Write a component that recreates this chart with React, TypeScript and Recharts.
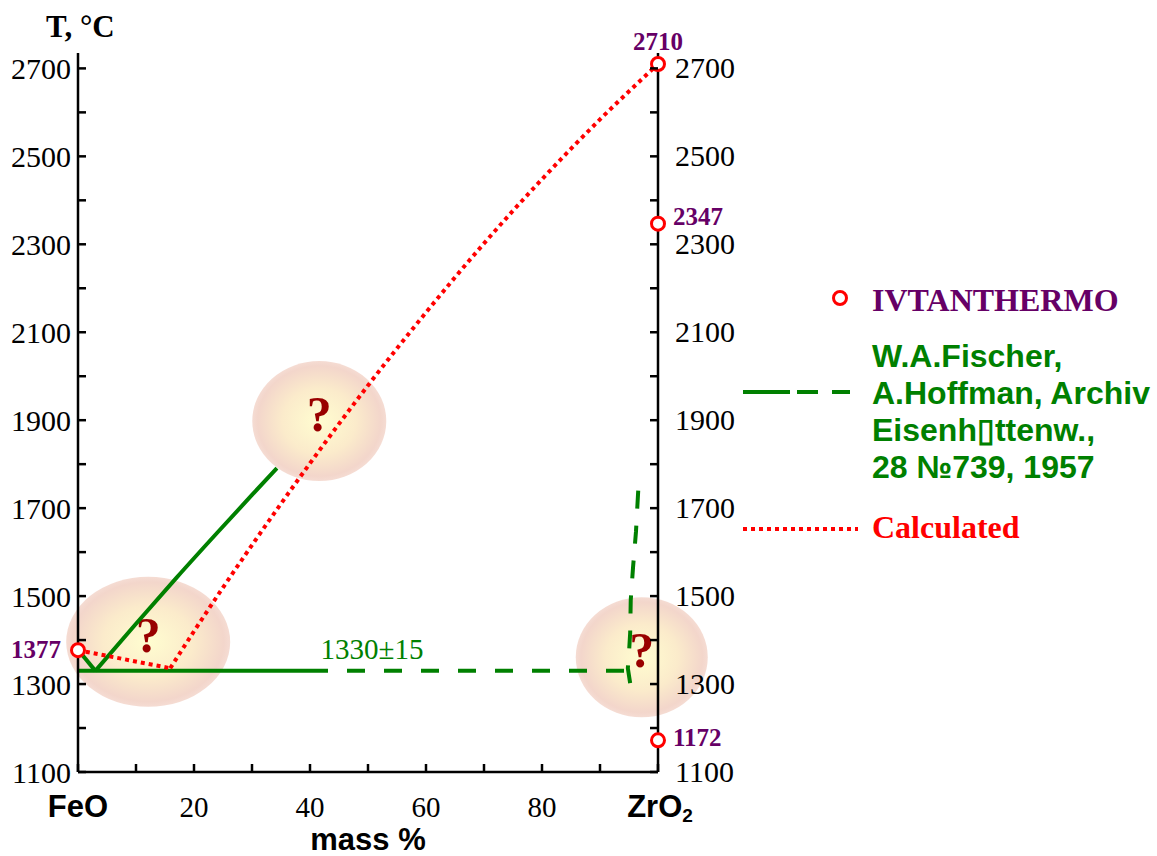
import {
  ComposedChart, Line, Scatter, XAxis, YAxis, ReferenceDot, Legend,
} from "recharts";

const GREEN = "#008000";
const RED = "#ff0000";
const PURPLE = "#660066";
const DARK_RED = "#990000";
const SERIF = "'Liberation Serif', 'Times New Roman', serif";
const SANS = "'Liberation Sans', Arial, sans-serif";

// x = mass % ZrO2, t = temperature, °C
const feoEutecticLeg = [{ x: 0.5, t: 1370 }, { x: 3, t: 1330 }];
const feoLiquidus = [
  { x: 3, t: 1330 }, { x: 10, t: 1437 }, { x: 17, t: 1542 }, { x: 24, t: 1644 },
  { x: 30, t: 1730 }, { x: 34.3, t: 1791 },
];
const eutecticMeasured = [{ x: 0, t: 1330 }, { x: 40, t: 1330 }];
const eutecticDashed = [{ x: 40, t: 1330 }, { x: 94.3, t: 1330 }];
const zro2Liquidus = [
  { x: 95.2, t: 1302 }, { x: 94.8, t: 1336 }, { x: 95.0, t: 1371 }, { x: 95.2, t: 1416 },
  { x: 95.3, t: 1491 }, { x: 95.7, t: 1566 }, { x: 96.2, t: 1646 }, { x: 96.7, t: 1766 },
];
const calculatedFeO = [{ x: 0, t: 1377 }, { x: 15.9, t: 1336 }];
const calculatedLiquidus = [
  { x: 15.9, t: 1336 }, { x: 20, t: 1420 }, { x: 30, t: 1616 }, { x: 40, t: 1802 },
  { x: 50, t: 1979 }, { x: 60, t: 2145 }, { x: 70, t: 2302 }, { x: 80, t: 2448 },
  { x: 90, t: 2584 }, { x: 100, t: 2710 },
];
const ivtanthermo = [
  { x: 0, t: 1377 }, { x: 100, t: 2710 }, { x: 100, t: 2347 }, { x: 100, t: 1172 },
];
const unknownZones = [{ x: 41.6, t: 1898 }, { x: 12.1, t: 1396 }, { x: 97.2, t: 1361 }];
const eutecticNote = { x: 50.7, t: 1330, text: "1330±15" };

const X_TICKS = [0, 10, 20, 30, 40, 50, 60, 70, 80, 90, 100];
const X_LABELS = [20, 40, 60, 80];
const Y_TICKS = [1100, 1200, 1300, 1400, 1500, 1600, 1700, 1800, 1900, 2000, 2100, 2200, 2300, 2400, 2500, 2600, 2700];
const Y_LABELS = [1100, 1300, 1500, 1700, 1900, 2100, 2300, 2500, 2700];

const ZONE_RADII = [[67, 60], [82, 65], [66, 60]];

function LeftTick({ x, y, payload }: any) {
  const v = payload.value;
  return (
    <g>
      <line x1={x} x2={x + 8} y1={y} y2={y} stroke="#000" strokeWidth={2.5} />
      {Y_LABELS.includes(v) && (
        <text x={x - 7} y={y + 11} textAnchor="end" fontFamily={SERIF} fontSize={30} fill="#000">{v}</text>
      )}
    </g>
  );
}

function RightTick({ x, y, payload }: any) {
  const v = payload.value;
  return (
    <g>
      <line x1={x} x2={x - 8} y1={y} y2={y} stroke="#000" strokeWidth={2.5} />
      {Y_LABELS.includes(v) && (
        <text x={x + 17} y={y + 10} textAnchor="start" fontFamily={SERIF} fontSize={30} fill="#000">{v}</text>
      )}
    </g>
  );
}

function BottomTick({ x, y, payload }: any) {
  const v = payload.value;
  let label = null;
  if (v === 0) {
    label = <text x={x} y={y + 45} textAnchor="middle" fontFamily={SANS} fontWeight="bold" fontSize={31} fill="#000">FeO</text>;
  } else if (v === 100) {
    label = (
      <text x={x + 2} y={y + 45} textAnchor="middle" fontFamily={SANS} fontWeight="bold" fontSize={31} fill="#000">
        ZrO<tspan fontSize={19} dy={5}>2</tspan>
      </text>
    );
  } else if (X_LABELS.includes(v)) {
    label = <text x={x} y={y + 45} textAnchor="middle" fontFamily={SERIF} fontSize={29} fill="#000">{v}</text>;
  }
  return (
    <g>
      <line x1={x} x2={x} y1={y} y2={y - 8} stroke="#000" strokeWidth={2.5} />
      {label}
    </g>
  );
}

function MassLabel({ viewBox }: any) {
  return (
    <text x={viewBox.x + viewBox.width / 2} y={viewBox.y + 78} textAnchor="middle"
      fontFamily={SANS} fontWeight="bold" fontSize={31} fill="#000">mass %</text>
  );
}

function TempLabel({ viewBox }: any) {
  return (
    <text x={viewBox.x + 28} y={viewBox.y - 16} fontFamily={SERIF} fontWeight="bold" fontSize={31} fill="#000">T, °C</text>
  );
}

function Zone({ cx, cy, index }: any) {
  const [rx, ry] = ZONE_RADII[index];
  return (
    <g>
      <ellipse cx={cx} cy={cy} rx={rx} ry={ry} fill="url(#zoneFill)" />
      <text x={cx} y={cy + 10} textAnchor="middle" fontFamily={SERIF} fontWeight="bold" fontSize={50} fill={DARK_RED}>?</text>
    </g>
  );
}

function PointMark({ cx, cy, payload }: any) {
  let label;
  const style = { fontFamily: SERIF, fontWeight: "bold" as const, fontSize: 25, fill: PURPLE };
  if (payload.x === 0) {
    label = <text x={cx - 17} y={cy + 8} textAnchor="end" {...style}>{payload.t}</text>;
  } else if (payload.t > 2600) {
    label = <text x={cx} y={cy - 14} textAnchor="middle" {...style}>{payload.t}</text>;
  } else if (payload.t > 2000) {
    label = <text x={cx + 15} y={cy + 1} textAnchor="start" {...style}>{payload.t}</text>;
  } else {
    label = <text x={cx + 15} y={cy + 6} textAnchor="start" {...style}>{payload.t}</text>;
  }
  return (
    <g>
      <circle cx={cx} cy={cy} r={6.5} fill="#fff" stroke={RED} strokeWidth={3} />
      {label}
    </g>
  );
}

function LegendBox() {
  const green = { fontFamily: SANS, fontWeight: "bold" as const, fontSize: 32, fill: GREEN };
  return (
    <svg width={420} height={290} style={{ display: "block", overflow: "visible" }}>
      <circle cx={103} cy={28} r={6.5} fill="#fff" stroke={RED} strokeWidth={3} />
      <text x={135} y={41} fontFamily={SERIF} fontWeight="bold" fontSize={32} fill={PURPLE}>IVTANTHERMO</text>
      <line x1={6} x2={113} y1={122} y2={122} stroke={GREEN} strokeWidth={4} strokeDasharray="47 7 21 14 18" />
      <text x={135} y={97} {...green}>W.A.Fischer,</text>
      <text x={135} y={134} {...green}>A.Hoffman, Archiv</text>
      <text x={135} y={171} {...green}>Eisenh▯ttenw.,</text>
      <text x={135} y={208} {...green}>28 №739, 1957</text>
      <line x1={6} x2={121} y1={259} y2={259} stroke={RED} strokeWidth={4} strokeDasharray="4 4" />
      <text x={135} y={268} fontFamily={SERIF} fontWeight="bold" fontSize={32} fill={RED}>Calculated</text>
    </svg>
  );
}

const lineBase = { yAxisId: "left", dataKey: "t", dot: false, activeDot: false, isAnimationActive: false, strokeWidth: 4 };

export default function App() {
  return (
    <div style={{ position: "absolute", left: 0, top: 0 }}>
      <ComposedChart width={1157} height={856} margin={{ top: 53, right: 439, bottom: 54, left: 18 }}>
        <defs>
          <radialGradient id="zoneFill" cx="50%" cy="50%" r="50%">
            <stop offset="0%" stopColor="#fffdd0" />
            <stop offset="55%" stopColor="#fbebcb" />
            <stop offset="92%" stopColor="#f3d6cb" />
            <stop offset="100%" stopColor="#f5dcd3" />
          </radialGradient>
        </defs>
        <XAxis type="number" dataKey="x" domain={[0, 100]} ticks={X_TICKS} interval={0}
          tickSize={0} tickMargin={0} height={30}
          axisLine={{ stroke: "#000", strokeWidth: 2.5 }} tick={<BottomTick />} label={<MassLabel />} />
        <YAxis yAxisId="left" type="number" dataKey="t" domain={[1100, 2735]} ticks={Y_TICKS} interval={0}
          tickSize={0} tickMargin={0} width={60}
          axisLine={{ stroke: "#000", strokeWidth: 2.5 }} tick={<LeftTick />} label={<TempLabel />} />
        <YAxis yAxisId="right" orientation="right" type="number" domain={[1100, 2735]} ticks={Y_TICKS} interval={0}
          allowDataOverflow tickSize={0} tickMargin={0} width={60}
          axisLine={{ stroke: "#000", strokeWidth: 2.5 }} tick={<RightTick />} />
        {unknownZones.map((z, i) => (
          <ReferenceDot key={i} yAxisId="left" x={z.x} y={z.t} r={0} zIndex={-10} ifOverflow="visible"
            shape={(p: any) => <Zone {...p} index={i} />} />
        ))}
        <ReferenceDot yAxisId="left" x={eutecticNote.x} y={eutecticNote.t} r={0}
          shape={(p: any) => (
            <text x={p.cx} y={p.cy - 12} textAnchor="middle" fontFamily={SERIF} fontSize={29} fill={GREEN}>{eutecticNote.text}</text>
          )} />
        <Line {...lineBase} data={feoEutecticLeg} type="linear" stroke={GREEN} />
        <Line {...lineBase} data={feoLiquidus} type="monotone" stroke={GREEN} />
        <Line {...lineBase} data={eutecticMeasured} type="linear" stroke={GREEN} />
        <Line {...lineBase} data={eutecticDashed} type="linear" stroke={GREEN} strokeDasharray="18 19" />
        <Line {...lineBase} data={zro2Liquidus} type="linear" stroke={GREEN} strokeDasharray="18 17" />
        <Line {...lineBase} data={calculatedFeO} type="linear" stroke={RED} strokeDasharray="4 4" />
        <Line {...lineBase} data={calculatedLiquidus} type="monotone" stroke={RED} strokeDasharray="4 4" />
        <Scatter yAxisId="left" data={ivtanthermo} dataKey="t" shape={<PointMark />} isAnimationActive={false} />
        <Legend layout="vertical" align="center" verticalAlign="middle" content={<LegendBox />}
          wrapperStyle={{ position: "absolute", left: 737, top: 270, width: 420, height: 290 }} />
      </ComposedChart>
    </div>
  );
}
